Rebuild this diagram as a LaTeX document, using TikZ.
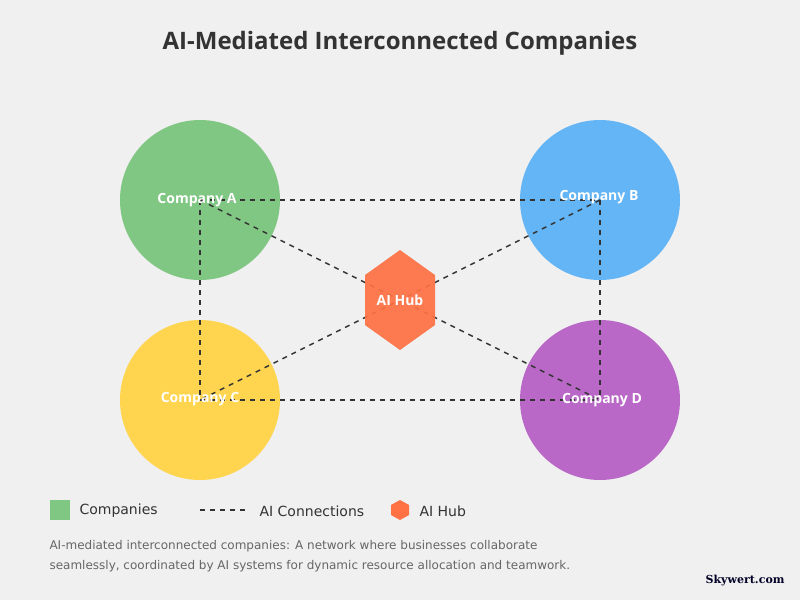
\documentclass[tikz,border=0pt]{standalone}
\usepackage{fontspec}
\setmainfont{DejaVu Sans}
\newfontfamily\headfont{Open Sans}
\newfontfamily\markfont{DejaVu Serif}
\usetikzlibrary{positioning, calc}

\definecolor{bgcol}{HTML}{F0F0F0}
\definecolor{inkcol}{HTML}{333333}
\definecolor{greencol}{HTML}{81C784}
\definecolor{bluecol}{HTML}{64B5F6}
\definecolor{yellowcol}{HTML}{FFD54F}
\definecolor{purplecol}{HTML}{BA68C8}
\definecolor{hubcol}{HTML}{FF7043}
\definecolor{notecol}{HTML}{666666}

\tikzset{
  company/.style={circle, minimum size=160pt, inner sep=0pt, draw=none},
  complabel/.style={text=white, font=\headfont\bfseries\fontsize{14}{16}\selectfont},
  link/.style={draw=inkcol, line width=1.5pt, dash pattern=on 5pt off 5pt},
  hubshape/.style={fill=hubcol, fill opacity=0.92},
  legendtext/.style={anchor=west, text=inkcol, font=\fontsize{14}{16}\selectfont},
}

\begin{document}
\begin{tikzpicture}[x=1pt, y=-1pt]
  \useasboundingbox[fill=bgcol] (0,0) rectangle (800,600);

  % title
  \node (title) at (400,43) {\headfont\bfseries\fontsize{24}{28}\selectfont\color{inkcol}AI-Mediated Interconnected Companies};

  % companies
  \node[company, fill=greencol] (compA) at (200,200) {};
  \node[company, fill=bluecol] (compB) at (600,200) {};
  \node[company, fill=yellowcol] (compC) at (200,400) {};
  \node[company, fill=purplecol] (compD) at (600,400) {};
  \coordinate (hub) at (400,300);

  % AI connections
  \draw[link] (compA.center) -- (compB.center);
  \draw[link] (compC.center) -- (compD.center);
  \draw[link] (compA.center) -- (compC.center);
  \draw[link] (compB.center) -- (compD.center);
  \draw[link] (compA.center) -- (compD.center);
  \draw[link] (compB.center) -- (compC.center);

  % hub
  \fill[hubshape, shift={(hub)}] (0,-50) -- (35,-25) -- (35,25) -- (0,50) -- (-35,25) -- (-35,-25) -- cycle;
  \node[complabel] (hublabel) at (hub) {AI Hub};

  % labels
  \node[complabel] (labA) at ($(compA)+(-3,0)$) {Company A};
  \node[complabel] (labB) at ($(compB)+(-1,-3)$) {Company B};
  \node[complabel] (labC) at ($(compC)+(0,-1)$) {Company C};
  \node[complabel] (labD) at ($(compD)+(2,0)$) {Company D};

  % legend
  \fill[greencol] (50,500) rectangle (70,520);
  \node[legendtext] (legA) at (76,511) {Companies};
  \coordinate (dashL) at (200,510);
  \coordinate (dashR) at (245,510);
  \draw[link] (dashL) -- (dashR);
  \node[legendtext] (legB) at (256,511) {AI Connections};
  \fill[hubcol, shift={(400,510)}] (0,-10) -- (9,-5) -- (9,5) -- (0,10) -- (-9,5) -- (-9,-5) -- cycle;
  \node[legendtext] (legC) at (416,511) {AI Hub};

  % note
  \node[anchor=west, text=notecol, font=\fontsize{12}{20}\selectfont, align=left] (note) at (46,556)
    {AI-mediated interconnected companies: A network where businesses collaborate\\seamlessly, coordinated by AI systems for dynamic resource allocation and teamwork.};

  \node[anchor=east, text=black!85!blue, font=\markfont\bfseries\fontsize{11}{13}\selectfont] (mark) at (788,581) {Skywert.com};
\end{tikzpicture}
\end{document}
